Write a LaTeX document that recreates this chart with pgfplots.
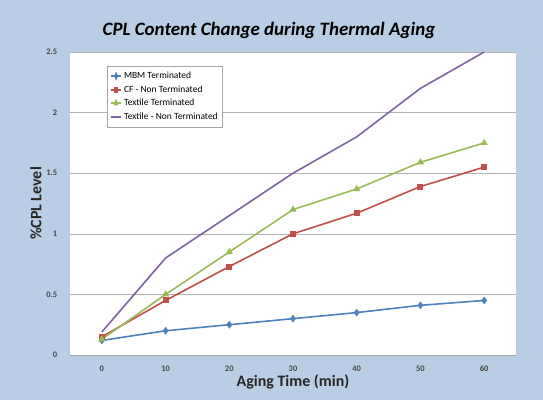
\documentclass[border=0pt]{standalone}
\usepackage{pgfplots}
\pgfplotsset{compat=1.18}
\usepackage{fontspec}
\setmainfont{Carlito}
\definecolor{bgblue}{RGB}{185,205,228}
\definecolor{xlblue}{RGB}{79,129,189}
\definecolor{xlred}{RGB}{192,80,77}
\definecolor{xlgreen}{RGB}{155,187,89}
\definecolor{xlpurple}{RGB}{128,100,162}
\definecolor{ticktext}{RGB}{70,70,70}

\begin{document}
\begin{tikzpicture}[x=1bp,y=1bp]
  % chart area background
  \fill[bgblue] (0,0) rectangle (543,400);
  \node[font=\fontsize{19}{21}\selectfont\bfseries\itshape] at (269,370) {CPL Content Change during Thermal Aging};
  \begin{axis}[
    at={(70bp,45bp)}, anchor=south west,
    scale only axis,
    width=446bp, height=303bp,
    xmin=-5, xmax=65,
    ymin=0, ymax=2.5,
    xtick={0,10,...,60},
    ytick={0,0.5,...,2.5},
    yticklabels={0,0.5,1,1.5,2,2.5},
    minor xtick={-5,5,...,65},
    xtick style={draw=none},
    minor tick length=3bp,
    minor x tick style={gray!70, line width=0.6pt},
    ytick style={draw=none},
    tick align=outside,
    axis background/.style={fill=white},
    axis x line*=bottom,
    axis y line*=left,
    y axis line style={draw=none},
    x axis line style={gray!70, line width=0.6pt, -},
    ymajorgrids=true,
    grid style={gray!60, line width=0.5pt},
    ticklabel style={font=\fontsize{8.5}{9}\selectfont\bfseries, text=ticktext},
    /pgf/number format/assume math mode=true,
    xticklabel style={yshift=-3bp},
    yticklabel style={xshift=-5bp},
    xlabel={Aging Time (min)},
    ylabel={\%CPL Level},
    label style={font=\fontsize{16}{18}\selectfont\bfseries, text=black!85},
    xlabel style={yshift=4bp},
    ylabel style={yshift=-2bp},
    legend style={at={(0.083,0.954)}, anchor=north west,
      font=\fontsize{9.5}{10}\selectfont, draw=gray!70, fill=white,
      row sep=1.5bp, inner xsep=3bp, inner ysep=4bp},
    legend cell align=left,
    legend image post style={xscale=0.6},
    every axis plot/.append style={line width=1.6pt},
  ]
  \addplot[color=xlblue, mark=diamond*, mark size=2.6pt, mark options={solid}] coordinates {
    (0,0.12)(10,0.20)(20,0.25)(30,0.30)(40,0.35)(50,0.41)(60,0.45)};
  \addlegendentry{MBM Terminated}
  \addplot[color=xlred, mark=square*, mark size=2.2pt] coordinates {
    (0,0.15)(10,0.45)(20,0.73)(30,1.00)(40,1.17)(50,1.39)(60,1.55)};
  \addlegendentry{CF - Non Terminated}
  \addplot[color=xlgreen, mark=triangle*, mark size=2.6pt] coordinates {
    (0,0.13)(10,0.50)(20,0.85)(30,1.20)(40,1.37)(50,1.59)(60,1.75)};
  \addlegendentry{Textile Terminated}
  \addplot[color=xlpurple, mark=none] coordinates {
    (0,0.19)(10,0.80)(20,1.15)(30,1.50)(40,1.80)(50,2.20)(60,2.50)};
  \addlegendentry{Textile - Non Terminated}
  \end{axis}
\end{tikzpicture}
\end{document}
